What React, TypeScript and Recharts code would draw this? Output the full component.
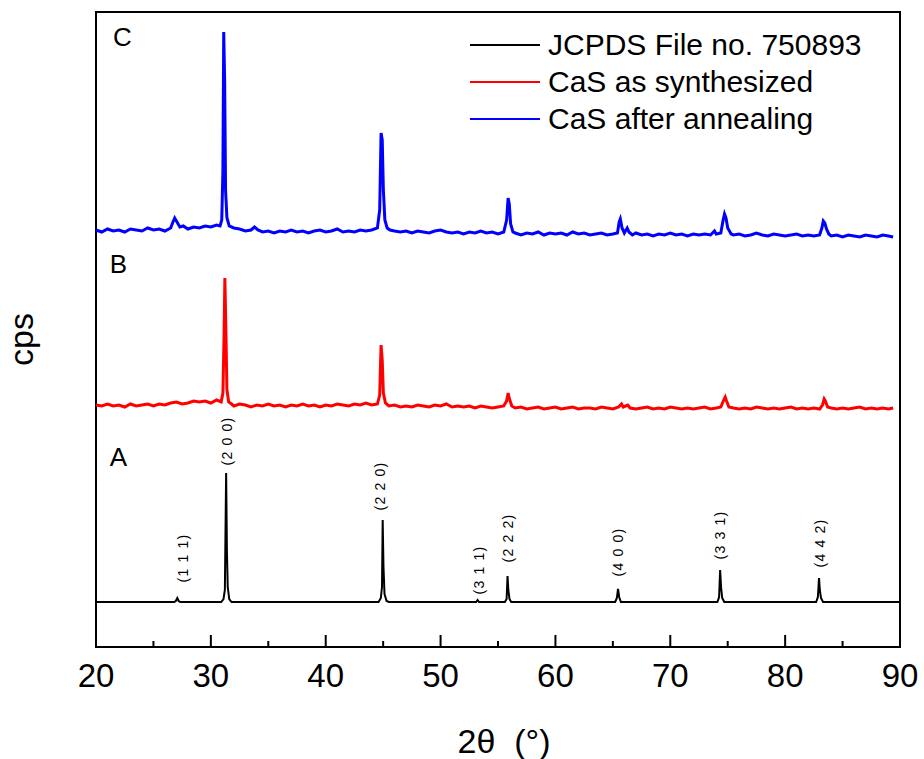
import {
  ComposedChart,
  Line,
  Scatter,
  XAxis,
  YAxis,
  ReferenceArea,
  Legend,
} from "recharts";

const FONT = '"Liberation Sans", Arial, sans-serif';

const seriesNames = ["JCPDS File no. 750893", "CaS as synthesized", "CaS after annealing"];
const seriesColors = ["#000000", "#ff0000", "#0000ff"];
// vertical stacking offset of each pattern (arbitrary cps units)
const seriesOffsets = [45, 242, 417];

// A: reference pattern
const jcpds: [number, number][] = [
  [20, 0], [26.8, 0], [26.95, 1], [27.08, 4], [27.2, 1], [27.35, 0],
  [30.9, 0], [31.1, 3], [31.22, 12], [31.33, 129], [31.4, 50], [31.47, 15], [31.6, 3], [31.8, 0],
  [44.6, 0], [44.8, 4], [44.9, 15], [44.96, 82], [45.03, 35], [45.12, 8], [45.3, 1], [45.5, 0],
  [53.1, 0], [53.22, 2], [53.35, 0],
  [55.6, 0], [55.75, 3], [55.83, 26], [55.9, 12], [56.0, 3], [56.15, 0],
  [65.2, 0], [65.35, 4], [65.45, 13], [65.55, 5], [65.7, 0],
  [74.1, 0], [74.25, 5], [74.34, 32], [74.42, 15], [74.52, 4], [74.7, 0],
  [82.7, 0], [82.85, 5], [82.95, 24], [83.02, 12], [83.12, 4], [83.3, 0],
  [90, 0],
];

// B: as synthesized
const asSynthesized: [number, number][] = [
  [20, 0], [20.5, -1], [21, 1], [21.5, -1], [22, 0], [22.5, -2], [23, 1], [23.5, -1], [24, 0], [24.5, 1],
  [25, -1], [25.5, 1], [26, 0], [26.5, 2], [27, 3], [27.5, 1], [28, 2], [28.5, 4], [29, 3], [29.5, 4],
  [30, 2], [30.5, 5], [30.9, 3], [31.05, 12], [31.15, 70], [31.22, 127], [31.3, 80], [31.4, 15], [31.55, 3],
  [31.8, 1], [32, -1], [32.5, 1], [33, 0], [33.5, -2], [34, 0], [34.5, -1], [35, 1], [35.5, -1], [36, 0],
  [36.5, -2], [37, 0], [37.5, -1], [38, 1], [38.5, -1], [39, 0], [39.5, -2], [40, 0], [40.5, -1], [41, 1],
  [41.5, 0], [42, -1], [42.5, 1], [43, 0], [43.5, 2], [44, 0], [44.5, 1], [44.7, 10], [44.82, 60], [44.92, 45],
  [45.02, 12], [45.2, 2], [45.5, -1], [46, 0], [46.5, -2], [47, -1], [47.5, -2], [48, 0], [48.5, -1], [49, -2],
  [49.5, 0], [50, -1], [50.5, 1], [51, -2], [51.5, -1], [52, -2], [52.5, -1], [53, -3], [53.5, -1], [54, -2],
  [54.5, -3], [55, -2], [55.5, -1], [55.75, 4], [55.88, 12], [56.0, 6], [56.2, -1], [56.5, -3], [57, -2],
  [57.5, -4], [58, -3], [58.5, -2], [59, -4], [59.5, -3], [60, -2], [60.5, -4], [61, -3], [61.5, -2], [62, -4],
  [62.5, -3], [63, -3], [63.5, -4], [64, -2], [64.5, -3], [65, -4], [65.5, -2], [65.75, 1], [65.9, -2],
  [66.3, 0], [66.5, -3], [67, -4], [67.5, -3], [68, -2], [68.5, -4], [69, -3], [69.5, -4], [70, -2], [70.5, -3],
  [71, -4], [71.5, -3], [72, -4], [72.5, -3], [73, -2], [73.5, -4], [74, -3], [74.4, -2], [74.65, 5], [74.78, 8],
  [74.9, 4], [75.1, -2], [75.5, -3], [76, -4], [76.5, -3], [77, -4], [77.5, -2], [78, -3], [78.5, -4], [79, -3],
  [79.5, -4], [80, -3], [80.5, -2], [81, -4], [81.5, -3], [82, -4], [82.5, -3], [83, -4], [83.25, 0], [83.4, 6],
  [83.5, 4], [83.7, -2], [84, -3], [84.5, -4], [85, -3], [85.5, -4], [86, -3], [86.5, -2], [87, -4], [87.5, -3],
  [88, -4], [88.5, -3], [89, -4], [89.4, -3],
];

// C: after annealing
const annealed: [number, number][] = [
  [20, 0], [20.5, -2], [21, 1], [21.5, -1], [22, 0], [22.5, -2], [23, 1], [23.5, 0], [24, -1], [24.5, 2],
  [25, 0], [25.5, 1], [26, -1], [26.5, 2], [26.7, 8], [26.85, 12], [27.0, 9], [27.3, 3], [27.6, 4], [28, 1],
  [28.5, 3], [29, 2], [29.5, 4], [30, 3], [30.5, 5], [30.8, 4], [30.95, 10], [31.05, 60], [31.12, 198],
  [31.2, 150], [31.28, 40], [31.4, 12], [31.6, 4], [32, 2], [32.5, 1], [33, -1], [33.5, 0], [33.8, 3], [34.1, 0],
  [34.5, -2], [35, -1], [35.5, -3], [36, -1], [36.5, -2], [37, 0], [37.5, -2], [38, -1], [38.5, -3], [39, -1],
  [39.5, 0], [40, -2], [40.5, -1], [41, 1], [41.5, -2], [42, -1], [42.5, -2], [43, 0], [43.5, -1], [44, 0],
  [44.5, 2], [44.7, 20], [44.82, 97], [44.92, 90], [45.02, 40], [45.15, 10], [45.35, 2], [45.6, 0], [46, -1],
  [46.5, -2], [47, -1], [47.5, -3], [48, -1], [48.5, -2], [49, -3], [49.5, -1], [50, 0], [50.5, -2], [51, -3],
  [51.5, -2], [52, -4], [52.5, -2], [53, -3], [53.5, -1], [54, -3], [54.5, -2], [55, -4], [55.5, -2],
  [55.75, 10], [55.88, 32], [55.98, 26], [56.1, 6], [56.3, -2], [56.5, -3], [57, -5], [57.5, -3], [58, -4],
  [58.5, -2], [59, -5], [59.5, -3], [60, -4], [60.5, -3], [61, -5], [61.5, -2], [62, -4], [62.5, -3], [63, -5],
  [63.5, -4], [64, -3], [64.5, -5], [65, -4], [65.4, -3], [65.55, 8], [65.65, 11], [65.8, 2], [66.0, -3],
  [66.25, 2], [66.4, -2], [66.7, -5], [67, -3], [67.5, -5], [68, -4], [68.5, -6], [69, -4], [69.5, -5], [70, -3],
  [70.5, -5], [71, -4], [71.5, -6], [72, -4], [72.5, -5], [73, -4], [73.5, -5], [73.85, -1], [74.0, -4],
  [74.4, -3], [74.6, 10], [74.72, 16], [74.85, 12], [75.0, 2], [75.3, -4], [75.5, -5], [76, -4], [76.5, -6],
  [77, -5], [77.5, -3], [78, -5], [78.5, -6], [79, -4], [79.5, -5], [80, -6], [80.5, -5], [81, -4], [81.5, -6],
  [82, -5], [82.5, -6], [83, -5], [83.2, 2], [83.32, 9], [83.45, 7], [83.6, 1], [83.8, -4], [84, -6], [84.5, -5],
  [85, -7], [85.5, -5], [86, -6], [86.5, -7], [87, -5], [87.5, -6], [88, -7], [88.5, -5], [89, -6], [89.4, -7],
];

const xTicks = [20, 25, 30, 35, 40, 45, 50, 55, 60, 65, 70, 75, 80, 85, 90];

// Miller indices of the reference peaks
const hklLabels = ["(1 1 1)", "(2 0 0)", "(2 2 0)", "(3 1 1)", "(2 2 2)", "(4 0 0)", "(3 3 1)", "(4 4 2)"];
const hklX = [27.6, 31.38, 44.73, 53.35, 55.87, 65.45, 74.33, 83.03];
const hklY = [89, 206, 161, 77, 109, 95, 112, 104];

const panelLetters = ["A", "B", "C"];
const panelX = [21.95, 21.95, 22.3];
const panelY = [190, 383, 610];

const patterns = [jcpds, asSynthesized, annealed].map((pts, i) =>
  pts.map(([x, y]) => ({ x, y: y + seriesOffsets[i] }))
);
const hklData = hklLabels.map((label, i) => ({ x: hklX[i], y: hklY[i], label }));
const letterData = panelLetters.map((label, i) => ({ x: panelX[i], y: panelY[i], label }));

function XTick({ x, y, payload }: any) {
  const major = payload.value % 10 === 0;
  return (
    <g>
      <line x1={x} y1={y} x2={x} y2={y - (major ? 12 : 6)} stroke="#000" strokeWidth={2} />
      {major && (
        <text x={x} y={y + 40} textAnchor="middle" fontSize={33} fontFamily={FONT} fill="#000">
          {payload.value}
        </text>
      )}
    </g>
  );
}

function LegendBox() {
  return (
    <div style={{ fontFamily: FONT }}>
      {seriesNames.map((name, i) => (
        <div key={name} style={{ display: "flex", alignItems: "center", height: 37 }}>
          <span
            style={{ width: 70, height: 0, borderTop: `2px solid ${seriesColors[i]}`, marginRight: 8 }}
          />
          <span style={{ fontSize: 30, color: "#000", lineHeight: "37px" }}>{name}</span>
        </div>
      ))}
    </div>
  );
}

export default function App() {
  return (
    <div>
      <style>{"body{margin:0}"}</style>
      <ComposedChart
        width={924}
        height={759}
        margin={{ top: 12, right: 24, bottom: 0, left: 0 }}
      >
        <XAxis
          type="number"
          dataKey="x"
          domain={[20, 90]}
          ticks={xTicks}
          interval={0}
          height={112}
          tickSize={0}
          tickMargin={0}
          tickLine={false}
          tick={<XTick />}
          axisLine={{ stroke: "#000", strokeWidth: 2 }}
          label={(props: any) => {
            const vb = props.viewBox;
            return (
              <text
                x={vb.x + vb.width / 2 + 6}
                y={vb.y + 106}
                textAnchor="middle"
                fontSize={34}
                fontFamily={FONT}
                fill="#000"
                style={{ whiteSpace: "pre" }}
              >
                {"2θ  (°)"}
              </text>
            );
          }}
        />
        <YAxis
          type="number"
          domain={[0, 635]}
          width={96}
          tick={false}
          tickLine={false}
          axisLine={false}
          label={(props: any) => {
            const vb = props.viewBox;
            const cx = vb.x + 33;
            const cy = vb.y + vb.height / 2 + 10;
            return (
              <text
                x={cx}
                y={cy}
                transform={`rotate(-90 ${cx} ${cy})`}
                textAnchor="middle"
                fontSize={34}
                fontFamily={FONT}
                fill="#000"
              >
                cps
              </text>
            );
          }}
        />
        {[2, 1, 0].map((i) => (
          <Line
            key={seriesNames[i]}
            data={patterns[i]}
            dataKey="y"
            name={seriesNames[i]}
            type="linear"
            stroke={seriesColors[i]}
            strokeWidth={i === 0 ? 2 : 3}
            dot={false}
            activeDot={false}
            isAnimationActive={false}
          />
        ))}
        <ReferenceArea
          x1={20}
          x2={90}
          y1={0}
          y2={635}
          fill="none"
          stroke="#000"
          strokeWidth={2}
          ifOverflow="visible"
        />
        <Scatter
          data={hklData}
          dataKey="y"
          isAnimationActive={false}
          shape={(p: any) => (
            <text
              x={p.cx}
              y={p.cy}
              transform={`rotate(-90 ${p.cx} ${p.cy})`}
              textAnchor="middle"
              dominantBaseline="central"
              fontSize={14}
              letterSpacing={1.2}
              fontFamily={FONT}
              fill="#000"
            >
              {p.payload.label}
            </text>
          )}
        />
        <Scatter
          data={letterData}
          dataKey="y"
          isAnimationActive={false}
          shape={(p: any) => (
            <text
              x={p.cx}
              y={p.cy}
              textAnchor="middle"
              dominantBaseline="central"
              fontSize={26}
              fontFamily={FONT}
              fill="#000"
            >
              {p.payload.label}
            </text>
          )}
        />
        <Legend
          layout="vertical"
          align="center"
          verticalAlign="middle"
          wrapperStyle={{ top: 26, left: 470, width: 430 }}
          content={() => <LegendBox />}
        />
      </ComposedChart>
    </div>
  );
}
